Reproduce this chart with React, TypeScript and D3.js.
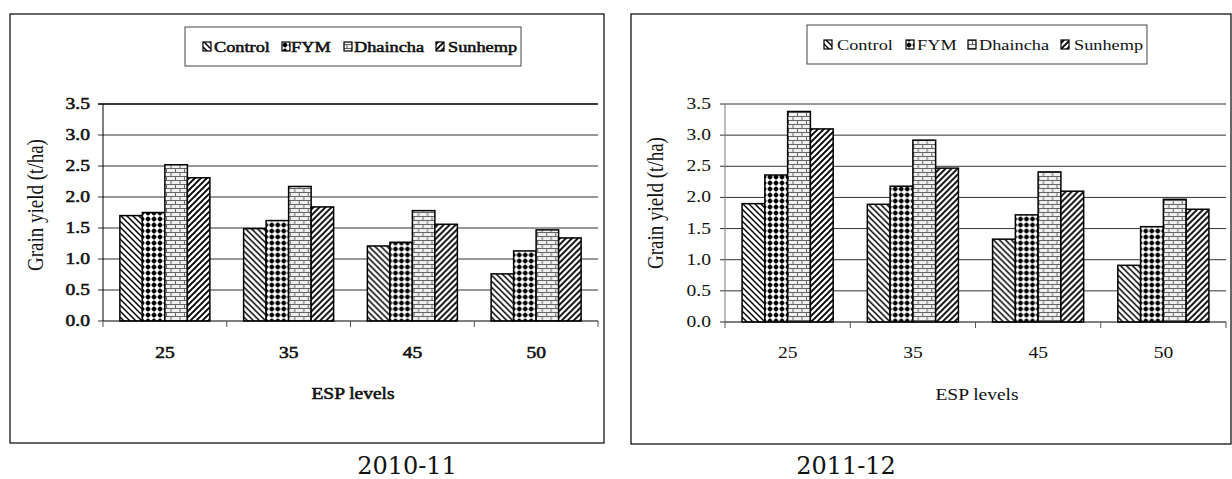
import React from "react";
import * as d3 from "d3";

const categories = ["25", "35", "45", "50"];
const seriesNames = ["Control", "FYM", "Dhaincha", "Sunhemp"];
const yTicks = [0, 0.5, 1.0, 1.5, 2.0, 2.5, 3.0, 3.5];

const control2010 = [1.7, 1.49, 1.21, 0.76];
const fym2010 = [1.75, 1.62, 1.27, 1.13];
const dhaincha2010 = [2.52, 2.17, 1.78, 1.47];
const sunhemp2010 = [2.31, 1.84, 1.56, 1.34];

const control2011 = [1.9, 1.89, 1.33, 0.91];
const fym2011 = [2.36, 2.18, 1.72, 1.53];
const dhaincha2011 = [3.38, 2.92, 2.41, 1.97];
const sunhemp2011 = [3.1, 2.47, 2.1, 1.81];

const yTitle = "Grain yield (t/ha)";
const xTitle = "ESP levels";
const captions = ["2010-11", "2011-12"];

const patternIds = ["pControl", "pFYM", "pDhaincha", "pSunhemp"];

type PanelCfg = {
  id: string;
  series: number[][];
  bold: boolean;
  box: [number, number, number, number];
  legendBox: [number, number, number, number];
  legendSwatchX: number[];
  legendTextX: number[];
  legendY: number;
  plot: [number, number, number, number];
  tickLabelX: number;
  catLabelY: number;
  xTitleX: number;
  xTitleY: number;
  yTitleX: number;
  yTitleY: number;
  caption: string;
  captionX: number;
  captionY: number;
};

const FONT = "Liberation Serif";
const SX = 1.22;

function Patterns() {
  return (
    <defs>
      <pattern id="pControl" patternUnits="userSpaceOnUse" width="6" height="6">
        <rect width="6" height="6" fill="#fff" />
        <path d="M-1,-1 L7,7 M-1,5 L1,7 M5,-1 L7,1" stroke="#000" strokeWidth="1.5" />
      </pattern>
      <pattern id="pSunhemp" patternUnits="userSpaceOnUse" width="6" height="6">
        <rect width="6" height="6" fill="#fff" />
        <path d="M-1,7 L7,-1 M-1,1 L1,-1 M5,7 L7,5" stroke="#000" strokeWidth="1.9" />
      </pattern>
      <pattern id="pFYM" patternUnits="userSpaceOnUse" width="6" height="6">
        <rect width="6" height="6" fill="#fff" />
        <circle cx="3" cy="3" r="2.2" fill="#000" />
        <path d="M3,0 L3,6 M0,3 L6,3" stroke="#000" strokeWidth="0.6" />
      </pattern>
      <pattern id="pDhaincha" patternUnits="userSpaceOnUse" width="9" height="8">
        <rect width="9" height="8" fill="#f0f0f0" />
        <path d="M0,0.5 L9,0.5 M0,4.5 L9,4.5 M0.5,0.5 L0.5,4.5 M5,4.5 L5,8" stroke="#666" strokeWidth="1" />
      </pattern>
    </defs>
  );
}

function Panel({ cfg }: { cfg: PanelCfg }) {
  const [px0, px1, pyTop, pyBot] = cfg.plot;
  const x0 = d3.scaleBand<string>().domain(categories).range([px0, px1]).paddingInner(0).paddingOuter(0);
  const bw = x0.bandwidth();
  const groupW = bw * (4 / 5.5);
  const x1 = d3
    .scaleBand<string>()
    .domain(seriesNames)
    .range([(bw - groupW) / 2, (bw + groupW) / 2]);
  const y = d3.scaleLinear().domain([0, 3.5]).range([pyBot, pyTop]);
  const boldProps = cfg.bold
    ? { stroke: "#111", strokeWidth: 0.55, paintOrder: "stroke" as const }
    : {};
  const tf = (x: number, yy: number, rot = 0) =>
    `translate(${x},${yy}) scale(${SX},1)${rot ? ` rotate(${rot})` : ""}`;

  return (
    <g>
      <rect x={cfg.box[0]} y={cfg.box[1]} width={cfg.box[2] - cfg.box[0]} height={cfg.box[3] - cfg.box[1]} fill="#fff" stroke="#000" strokeWidth={1.2} />
      <rect
        x={cfg.legendBox[0]}
        y={cfg.legendBox[1]}
        width={cfg.legendBox[2] - cfg.legendBox[0]}
        height={cfg.legendBox[3] - cfg.legendBox[1]}
        fill="#fff"
        stroke="#444"
        strokeWidth={1}
      />
      {seriesNames.map((s, i) => (
        <g key={s}>
          <rect x={cfg.legendSwatchX[i]} y={cfg.legendY - 5} width={8} height={9} fill={`url(#${patternIds[i]})`} stroke="#000" strokeWidth={1.2} />
          <text
            transform={tf(cfg.legendTextX[i], cfg.legendY + 5)}
            fontFamily={FONT}
            fontSize={15}
            fill="#111"
            {...boldProps}
          >
            {s}
          </text>
        </g>
      ))}
      {yTicks.map((t) => (
        <line
          key={t}
          x1={px0 - 5}
          x2={t === 0 ? px0 : px1}
          y1={y(t)}
          y2={y(t)}
          stroke={t === 3.5 && cfg.bold ? "#000" : "#333"}
          strokeWidth={t === 3.5 && cfg.bold ? 1.6 : 1}
        />
      ))}
      {yTicks.map((t) => (
        <text
          key={"l" + t}
          transform={tf(cfg.tickLabelX, y(t) + 5)}
          textAnchor="end"
          fontFamily={FONT}
          fontSize={16}
          fill="#111"
          {...boldProps}
        >
          {d3.format(".1f")(t)}
        </text>
      ))}
      {categories.map((c, ci) => (
        <g key={c} transform={`translate(${x0(c)},0)`}>
          {seriesNames.map((s, si) => {
            const v = cfg.series[si][ci];
            return (
              <rect
                key={s}
                x={x1(s)}
                y={y(v)}
                width={x1.bandwidth()}
                height={y(0) - y(v)}
                fill={`url(#${patternIds[si]})`}
                stroke="#000"
                strokeWidth={1.5}
              />
            );
          })}
        </g>
      ))}
      <line x1={px0} x2={px0} y1={pyTop} y2={pyBot} stroke={cfg.bold ? "#000" : "#777"} strokeWidth={1} />
      <line x1={px0} x2={px1} y1={pyBot} y2={pyBot} stroke="#000" strokeWidth={1.2} />
      {[...categories.map((c) => x0(c) as number), px1].map((xx, i) => (
        <line key={"t" + i} x1={xx} x2={xx} y1={pyBot} y2={pyBot + 6} stroke="#555" strokeWidth={1} />
      ))}
      {categories.map((c) => (
        <text
          key={"c" + c}
          transform={tf((x0(c) as number) + bw / 2, cfg.catLabelY)}
          textAnchor="middle"
          fontFamily={FONT}
          fontSize={16}
          fill="#111"
          {...boldProps}
        >
          {c}
        </text>
      ))}
      <text transform={tf(cfg.xTitleX, cfg.xTitleY)} textAnchor="middle" fontFamily={FONT} fontSize={16} fill="#111" {...boldProps}>
        {xTitle}
      </text>
      <text transform={tf(cfg.yTitleX, cfg.yTitleY, -90)} textAnchor="middle" fontFamily={FONT} fontSize={19} fill="#111">
        {yTitle}
      </text>
      <text
        x={cfg.captionX}
        y={cfg.captionY}
        textAnchor="middle"
        fontFamily="DejaVu Serif"
        fontSize={24}
        fill="#111"
      >
        {cfg.caption}
      </text>
    </g>
  );
}

const panels: PanelCfg[] = [
  {
    id: "a",
    series: [control2010, fym2010, dhaincha2010, sunhemp2010],
    bold: true,
    box: [10, 14, 604, 443],
    legendBox: [185, 27, 521, 66],
    legendSwatchX: [203, 282, 344, 436],
    legendTextX: [214, 291, 354, 448],
    legendY: 47,
    plot: [103, 598, 104, 321],
    tickLabelX: 90,
    catLabelY: 358,
    xTitleX: 353,
    xTitleY: 399,
    yTitleX: 43,
    yTitleY: 205,
    caption: captions[0],
    captionX: 407,
    captionY: 474,
  },
  {
    id: "b",
    series: [control2011, fym2011, dhaincha2011, sunhemp2011],
    bold: false,
    box: [631, 14, 1231, 444],
    legendBox: [807, 25, 1147, 64],
    legendSwatchX: [824, 906, 968, 1061],
    legendTextX: [837, 917, 979, 1074],
    legendY: 45,
    plot: [725, 1226, 104, 322],
    tickLabelX: 711,
    catLabelY: 358,
    xTitleX: 977,
    xTitleY: 400,
    yTitleX: 663,
    yTitleY: 203,
    caption: captions[1],
    captionX: 846,
    captionY: 474,
  },
];

export default function App() {
  return (
    <svg
      width={1232}
      height={479}
      style={{ position: "absolute", left: 0, top: 0, background: "#fff" }}
      xmlns="http://www.w3.org/2000/svg"
    >
      <Patterns />
      <rect width={1232} height={479} fill="#fff" />
      {panels.map((p) => (
        <Panel key={p.id} cfg={p} />
      ))}
    </svg>
  );
}
